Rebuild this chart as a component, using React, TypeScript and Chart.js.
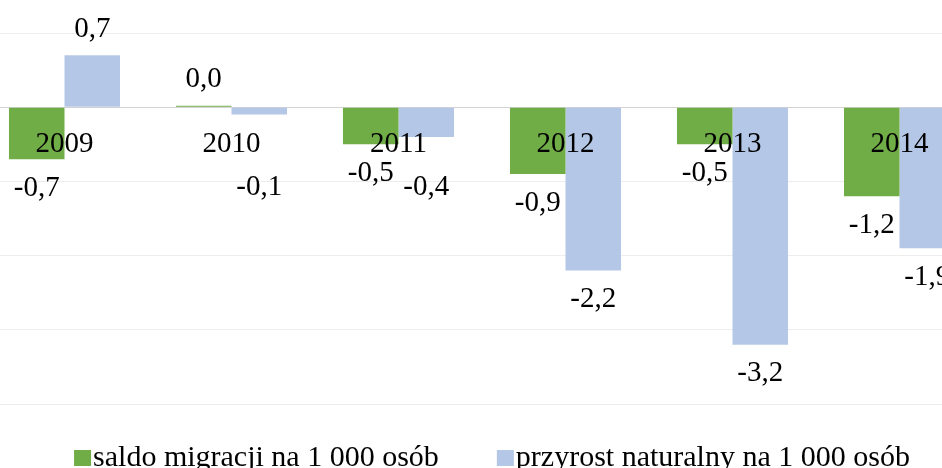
import React, { useEffect, useRef } from 'react';
import { Chart, registerables } from 'chart.js';

Chart.register(...registerables);

// ---- data ----
const years = ['2009', '2010', '2011', '2012', '2013', '2014'];
const saldoMigracji = [-0.7, 0.02, -0.5, -0.9, -0.5, -1.2];
const przyrostNaturalny = [0.7, -0.1, -0.4, -2.2, -3.2, -1.9];
const seriesNames = ['saldo migracji na 1 000 osób', 'przyrost naturalny na 1 000 osób'];
const yMin = -4;
const yMax = 1;
const yStep = 1;

// ---- styles ----
const FONT = "'Liberation Serif', 'Times New Roman', serif";
const FONT_SIZE = 29;
const LEGEND_FONT_SIZE = 30;
const GREEN = '#70AD47';
const BLUE = '#B4C7E7';

const valueLabels = {
  id: 'valueLabels',
  afterDatasetsDraw(chart: any) {
    const ctx = chart.ctx;
    const zero = chart.scales.y.getPixelForValue(0);
    ctx.save();
    ctx.font = `${FONT_SIZE}px ${FONT}`;
    ctx.fillStyle = '#000';
    ctx.textAlign = 'center';
    ctx.textBaseline = 'middle';
    chart.data.datasets.forEach((ds: any, di: number) => {
      const meta = chart.getDatasetMeta(di);
      meta.data.forEach((bar: any, i: number) => {
        const v = ds.data[i] as number;
        let y: number;
        if (v >= 0) {
          y = bar.y - 26;
        } else {
          y = bar.y + 29;
          if (y - zero < 62) y = zero + 80;
        }
        ctx.fillText(v.toFixed(1).replace('.', ','), bar.x, y);
      });
    });
    ctx.restore();
  },
};

const bottomLegend = {
  id: 'bottomLegend',
  afterDraw(chart: any) {
    const ctx = chart.ctx;
    ctx.save();
    ctx.font = `${LEGEND_FONT_SIZE}px ${FONT}`;
    ctx.textBaseline = 'alphabetic';
    ctx.textAlign = 'left';
    const boxW = 17;
    const boxH = 16;
    const boxGap = 2;
    const itemGap = 58;
    const items = chart.data.datasets.map((ds: any) => ({
      label: ds.label as string,
      color: ds.backgroundColor as string,
      w: boxW + boxGap + ctx.measureText(ds.label).width,
    }));
    const total = items.reduce((s: number, it: any) => s + it.w, 0) + itemGap * (items.length - 1);
    let x = chart.width / 2 + 10 - total / 2;
    const baseline = chart.chartArea.bottom + 62;
    items.forEach((it: any) => {
      ctx.fillStyle = it.color;
      ctx.fillRect(x, baseline - boxH, boxW, boxH);
      ctx.fillStyle = '#000';
      ctx.fillText(it.label, x + boxW + boxGap, baseline);
      x += it.w + itemGap;
    });
    ctx.restore();
  },
};

export default function App() {
  const canvasRef = useRef<HTMLCanvasElement | null>(null);

  useEffect(() => {
    if (!canvasRef.current) return;
    const chart = new Chart(canvasRef.current, {
      type: 'bar',
      data: {
        labels: years,
        datasets: [
          {
            label: seriesNames[0],
            data: saldoMigracji,
            backgroundColor: GREEN,
            borderWidth: 0,
            categoryPercentage: 0.665,
            barPercentage: 1.0,
          },
          {
            label: seriesNames[1],
            data: przyrostNaturalny,
            backgroundColor: BLUE,
            borderWidth: 0,
            categoryPercentage: 0.665,
            barPercentage: 1.0,
          },
        ],
      },
      options: {
        animation: false,
        responsive: true,
        maintainAspectRatio: false,
        layout: { padding: { top: 33, bottom: 64, left: 0, right: 0 } },
        plugins: {
          legend: { display: false },
          tooltip: { enabled: false },
        },
        scales: {
          x: {
            position: { y: 0 } as any,
            grid: { display: false, drawTicks: false, tickLength: 0 },
            border: { display: false },
            ticks: {
              z: 1,
              padding: 20,
              color: '#000',
              font: { family: FONT, size: FONT_SIZE },
              maxRotation: 0,
              autoSkip: false,
            },
            afterFit: (s: any) => {
              s.height = 0;
            },
          },
          y: {
            min: yMin,
            max: yMax,
            ticks: { stepSize: yStep, display: false },
            grid: {
              drawTicks: false,
              tickLength: 0,
              color: (c: any) => (c.tick && c.tick.value === 0 ? '#D3D3D3' : '#EDEDED'),
              lineWidth: 1,
            },
            border: { display: false },
            afterFit: (s: any) => {
              s.width = 0;
            },
          },
        },
      },
      plugins: [valueLabels, bottomLegend],
    });
    return () => chart.destroy();
  }, []);

  return (
    <div
      style={{
        position: 'fixed',
        left: 0,
        top: 0,
        width: 942,
        height: 468,
        overflow: 'hidden',
        background: '#fff',
      }}
    >
      <div style={{ position: 'absolute', left: -19, top: 0, width: 1002, height: 468 }}>
        <canvas ref={canvasRef} />
      </div>
    </div>
  );
}
